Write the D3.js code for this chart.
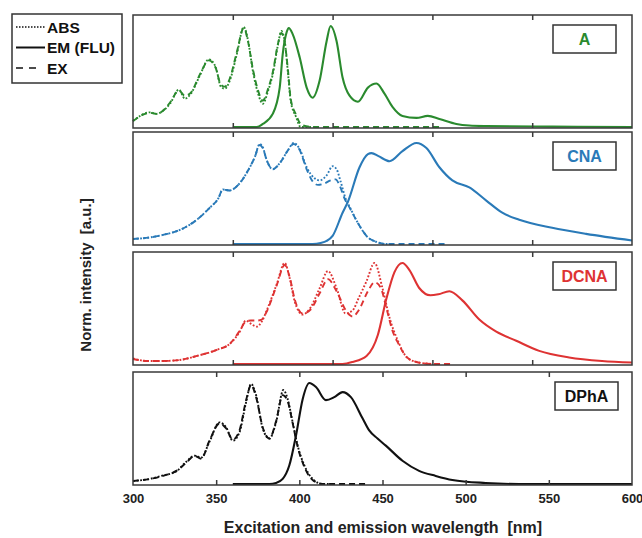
<!DOCTYPE html>
<html>
<head>
<meta charset="utf-8">
<title>Spectra</title>
<script src="https://cdn.jsdelivr.net/npm/d3@7"></script>
<style>
  body { margin: 0; background: #fff; }
  text { font-family: "Liberation Sans", Arial, sans-serif; font-weight: bold; white-space: pre; }
</style>
</head>
<body>
<script>
// ---- data: [wavelength nm, normalised intensity] ----
var absA = [[300,0.06],[308.5,0.145],[311.8,0.13],[315,0.16],[318.5,0.23],[323,0.37],[326,0.28],[329,0.33],[333.5,0.51],[338,0.67],[341.5,0.59],[344,0.40],[346,0.38],[348.5,0.46],[352,0.72],[355.5,0.99],[357.7,0.85],[360,0.56],[362.7,0.33],[365,0.23],[367.7,0.36],[370,0.52],[372.7,0.82],[374.3,0.95],[376,0.85],[377.7,0.52],[379,0.26],[381.7,0.10],[384,0.0],[390,0]];
var exA = [[300,0.06],[308.5,0.14],[311.8,0.13],[315,0.16],[318.5,0.24],[323,0.36],[326,0.31],[329,0.34],[333.5,0.52],[338,0.66],[341.5,0.58],[344,0.42],[346,0.40],[348.5,0.48],[352,0.74],[355.5,0.98],[357.7,0.84],[360,0.58],[362.7,0.36],[365,0.26],[367.7,0.38],[370,0.54],[372.7,0.83],[374.3,0.93],[376,0.84],[377.7,0.55],[379,0.28],[381.7,0.12],[384.5,0.02],[390,0],[455,0]];
var emA = [[350,0],[362,0],[365,0.03],[370,0.13],[373.5,0.39],[375,0.72],[377,0.94],[378,0.98],[380,0.92],[383.5,0.69],[387,0.39],[390,0.29],[393.5,0.46],[397,0.85],[399,1.0],[402,0.85],[405,0.49],[408.5,0.31],[412.7,0.25],[417.7,0.39],[422,0.43],[426,0.33],[430,0.2],[435,0.11],[442,0.09],[447.7,0.11],[453.5,0.08],[462,0.03],[468.5,0.015],[477,0.01],[510,0.004],[550,0]];

var absCNA = [[300,0.05],[308.5,0.065],[315,0.09],[323.5,0.14],[332,0.24],[338.5,0.36],[342.7,0.45],[345,0.54],[348.5,0.53],[352.7,0.585],[357.7,0.73],[361,0.86],[363.5,0.99],[365,0.96],[367,0.83],[370,0.74],[373.5,0.80],[377.7,0.93],[380.5,1.0],[383.5,0.94],[387,0.76],[391,0.65],[393.5,0.63],[397,0.68],[400,0.77],[402,0.74],[404,0.62],[406.5,0.45],[408.5,0.37],[413.5,0.18],[417.7,0.065],[422,0.02],[427,0],[430,0]];
var exCNA = [[300,0.05],[308.5,0.065],[315,0.09],[323.5,0.14],[332,0.24],[338.5,0.36],[342.7,0.45],[345,0.54],[348.5,0.53],[352.7,0.585],[357.7,0.73],[361,0.86],[363.5,0.98],[365,0.95],[367,0.83],[370,0.74],[373.5,0.80],[377.7,0.93],[380.5,0.99],[383.5,0.93],[387,0.74],[390,0.62],[392.7,0.585],[396,0.6],[399,0.63],[401.5,0.64],[403.5,0.58],[406,0.45],[408.5,0.36],[413.5,0.18],[417.7,0.065],[422,0.02],[427,0],[458,0]];
var emCNA = [[350,0],[390,0],[394,0.01],[397,0.03],[400,0.08],[405,0.31],[407.7,0.42],[413.5,0.76],[417.7,0.89],[419.5,0.9],[423,0.87],[428.5,0.82],[435,0.92],[442,1.0],[447,0.95],[453.5,0.76],[460,0.63],[468.5,0.56],[477,0.43],[485,0.31],[493.5,0.24],[510,0.16],[527,0.10],[550,0.035]];

var absDCNA = [[300,0.055],[307,0.03],[315,0.03],[323.5,0.04],[332,0.08],[342,0.14],[348.5,0.2],[353.5,0.32],[356.5,0.43],[359,0.40],[362,0.37],[364.5,0.42],[367,0.53],[372,0.79],[376,1.0],[378.5,0.85],[381,0.62],[385,0.49],[389,0.56],[393.5,0.75],[397.7,0.92],[402,0.75],[406.5,0.5],[410,0.53],[413,0.65],[417,0.82],[421,1.0],[425,0.75],[428.5,0.46],[432.7,0.23],[437,0.07],[442,0.02],[450,0]];
var exDCNA = [[300,0.05],[307,0.03],[315,0.03],[323.5,0.04],[332,0.08],[342,0.14],[348.5,0.2],[353.5,0.33],[356.5,0.42],[359,0.43],[362,0.43],[364.5,0.44],[367,0.52],[372,0.78],[376,0.98],[378.5,0.86],[381,0.64],[385,0.5],[389,0.54],[393.5,0.7],[397.7,0.84],[402,0.72],[407,0.52],[410,0.47],[413,0.53],[417.7,0.72],[421,0.81],[424,0.76],[427,0.55],[430,0.33],[433,0.2],[437,0.07],[442,0.02],[450,0],[460,0]];
var emDCNA = [[350,0],[405,0],[410,0.02],[417,0.08],[422.7,0.29],[427,0.65],[431,0.91],[435,1.0],[438.5,0.93],[443.5,0.75],[449,0.68],[453,0.69],[458.5,0.72],[465,0.63],[473.5,0.44],[482,0.32],[492,0.23],[503.5,0.13],[518.5,0.065],[535,0.03],[550,0.015]];

var absDPhA = [[300,0.03],[310,0.05],[318,0.085],[326,0.125],[332,0.22],[337,0.28],[341,0.26],[346,0.42],[352,0.61],[356,0.56],[360,0.43],[364,0.51],[368,0.81],[371,0.99],[374,0.88],[378,0.55],[382,0.45],[386,0.61],[390.4,0.93],[393,0.84],[396,0.61],[399,0.38],[403,0.185],[408,0.05],[414,0],[420,0]];
var exDPhA = [[300,0.03],[310,0.05],[318,0.08],[326,0.13],[332,0.21],[337,0.28],[341,0.25],[346,0.43],[352,0.6],[356,0.55],[360,0.44],[364,0.53],[368,0.83],[371,0.98],[374,0.86],[378,0.56],[382,0.45],[386,0.62],[390,0.88],[393,0.82],[396,0.6],[399,0.37],[403,0.17],[408,0.04],[414,0],[440,0]];
var emDPhA = [[360,0],[382,0],[386,0.01],[390,0.05],[394,0.185],[398,0.48],[402,0.84],[406,1.0],[410,0.96],[416,0.83],[421,0.86],[426,0.91],[431,0.86],[438,0.65],[442,0.53],[447,0.45],[452,0.38],[462,0.23],[472,0.13],[482,0.08],[492,0.04],[512,0.01],[532,0],[600,0]];

var names = ['A', 'CNA', 'DCNA', 'DPhA'];
var colors = ['#2a8a2e', '#2a7ab8', '#de3333', '#111111'];
var xDomains = [[300, 550], [300, 550], [300, 550], [300, 600]];
var tickSets = [[350, 400, 450, 500], [350, 400, 450, 500], [350, 400, 450, 500], [300, 350, 400, 450, 500, 550, 600]];
var legendLabels = ['ABS', 'EM (FLU)', 'EX'];
var xTitle = 'Excitation and emission wavelength  [nm]';
var yTitle = 'Norm. intensity  [a.u.]';

var series = [
  {abs: absA, em: emA, ex: exA},
  {abs: absCNA, em: emCNA, ex: exCNA},
  {abs: absDCNA, em: emDCNA, ex: exDCNA},
  {abs: absDPhA, em: emDPhA, ex: exDPhA}
];

var width = 642, height = 538;
var left = 133, right = 632;
var tops = [15, 132, 252, 372];
var ph = 113;

var svg = d3.select('body').append('svg')
    .attr('width', width)
    .attr('height', height);

var styles = {
  abs: {dash: '1.8,1.8', w: 1.9},
  em: {dash: null, w: 2.1},
  ex: {dash: '6,4', w: 1.9}
};

names.forEach(function(name, i) {
  var top = tops[i], bottom = top + ph;
  var x = d3.scaleLinear().domain(xDomains[i]).range([left, right]);
  var y = d3.scaleLinear().domain([0, 1]).range([bottom - 1, top + 11]);
  var g = svg.append('g');

  var line = d3.line()
      .x(function(d) { return x(d[0]); })
      .y(function(d) { return y(d[1]); })
      .curve(d3.curveMonotoneX);

  ['ex', 'abs', 'em'].forEach(function(k) {
    g.append('path')
      .attr('d', line(series[i][k]))
      .attr('fill', 'none')
      .attr('stroke', colors[i])
      .attr('stroke-width', styles[k].w)
      .attr('stroke-dasharray', styles[k].dash);
  });

  // frame
  g.append('rect')
    .attr('x', left).attr('y', top)
    .attr('width', right - left).attr('height', ph)
    .attr('fill', 'none')
    .attr('stroke', '#3a3a3a')
    .attr('stroke-width', 1.5);

  // inward ticks top & bottom
  var inner = tickSets[i].filter(function(t) { return t > xDomains[i][0] && t < xDomains[i][1]; });
  g.append('g')
    .attr('transform', 'translate(0,' + bottom + ')')
    .call(d3.axisBottom(x).tickValues(inner).tickSize(-5).tickFormat(''))
    .call(function(a) { a.select('.domain').remove(); a.selectAll('line').attr('stroke', '#3a3a3a').attr('stroke-width', 1.5); });
  g.append('g')
    .attr('transform', 'translate(0,' + top + ')')
    .call(d3.axisTop(x).tickValues(inner).tickSize(-5).tickFormat(''))
    .call(function(a) { a.select('.domain').remove(); a.selectAll('line').attr('stroke', '#3a3a3a').attr('stroke-width', 1.5); });

  if (i === names.length - 1) {
    var ax = g.append('g')
      .attr('transform', 'translate(0,' + bottom + ')')
      .call(d3.axisBottom(x).tickValues(tickSets[i]).tickSize(0).tickPadding(9).tickFormat(d3.format('d')));
    ax.select('.domain').remove();
    ax.selectAll('text')
      .attr('font-family', '"Liberation Sans", Arial, sans-serif')
      .attr('font-weight', 'bold')
      .attr('font-size', 13)
      .attr('fill', '#222');
  }

  // label box
  var bx = i === 3 ? 555 : 553, by = top + 10;
  g.append('rect')
    .attr('x', bx).attr('y', by)
    .attr('width', 63).attr('height', 28)
    .attr('fill', '#fff')
    .attr('stroke', '#333')
    .attr('stroke-width', 1.5);
  g.append('text')
    .attr('x', bx + 31.5).attr('y', by + 20)
    .attr('text-anchor', 'middle')
    .attr('font-size', 16)
    .attr('fill', colors[i])
    .text(name);
});

// legend
var lg = svg.append('g');
lg.append('rect')
  .attr('x', 12).attr('y', 14).attr('width', 110).attr('height', 69)
  .attr('fill', '#fff').attr('stroke', '#333').attr('stroke-width', 1.5);
var legDash = ['1.5,1.5', null, '7,6'];
var legX2 = [45, 45, 36];
legendLabels.forEach(function(l, j) {
  var ly = 27 + j * 20.5;
  lg.append('line')
    .attr('x1', 16).attr('x2', legX2[j])
    .attr('y1', ly).attr('y2', ly)
    .attr('stroke', '#111').attr('stroke-width', j === 1 ? 2 : 1.6)
    .attr('stroke-dasharray', legDash[j]);
  lg.append('text')
    .attr('x', 47).attr('y', ly + 5.5)
    .attr('font-size', 15.5)
    .attr('fill', '#111')
    .text(l);
});

// axis titles
svg.append('text')
  .attr('x', 383).attr('y', 533)
  .attr('text-anchor', 'middle')
  .attr('font-size', 16)
  .attr('fill', '#222')
  .text(xTitle);

svg.append('text')
  .attr('transform', 'translate(91,275) rotate(-90)')
  .attr('text-anchor', 'middle')
  .attr('font-size', 15)
  .attr('fill', '#222')
  .text(yTitle);
</script>
</body>
</html>
